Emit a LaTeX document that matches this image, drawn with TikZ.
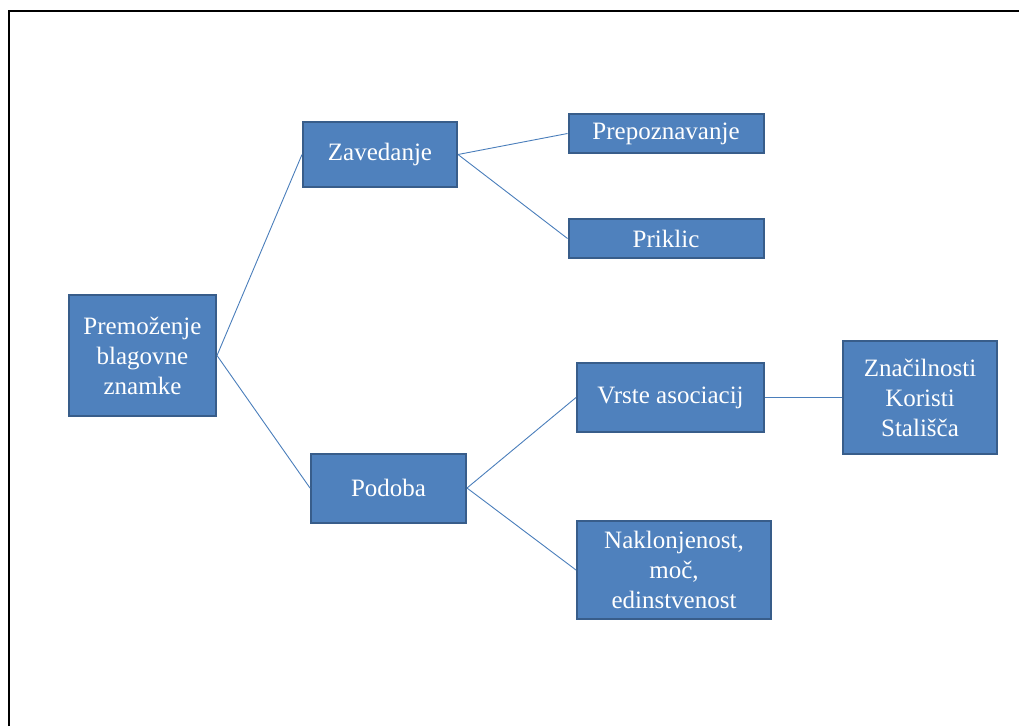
\documentclass[tikz,border=0pt]{standalone}
\usepackage{fontspec}
\setmainfont{Liberation Serif}
\definecolor{boxfill}{HTML}{4F81BD}
\definecolor{boxline}{HTML}{385D8A}
\definecolor{linkline}{HTML}{4A7EBB}
\begin{document}
\begin{tikzpicture}[x=1pt,y=-1pt,
  box/.style={draw=boxline, line width=2pt, fill=boxfill, text=white,
    inner sep=0pt, align=center,
    font=\fontsize{25}{30}\selectfont},
  link/.style={draw=linkline, line width=0.9pt}]
  \useasboundingbox (0,0) rectangle (1019,726);
  % page frame
  \draw[line width=2.2pt] (9,726) -- (9,11) -- (1019,11);

  % boxes
  \node[box, minimum width=147pt, minimum height=121pt] (root) at (142.5,355.5)
    {Premoženje\\blagovne\\znamke};
  \node[box, minimum width=154pt, minimum height=65pt] (zav) at (380,154.5) {Zavedanje};
  \node[box, minimum width=195pt, minimum height=39pt] (prep) at (666,133.5) {Prepoznavanje};
  \node[box, minimum width=195pt, minimum height=39pt] (prik) at (666,238.5) {Priklic};
  \node[box, minimum width=155pt, minimum height=69pt] (pod) at (388.5,488) {Podoba};
  \node[box, minimum width=187pt, minimum height=69pt] (vrs) at (670.5,397.5) {Vrste asociacij};
  \node[box, minimum width=154pt, minimum height=113pt] (zna) at (920,397.5)
    {Značilnosti\\Koristi\\Stališča};
  \node[box, minimum width=194pt, minimum height=98pt] (nak) at (674,570)
    {Naklonjenost,\\moč,\\edinstvenost};

  % connectors
  \draw[link] (root.east) -- (zav.west);
  \draw[link] (root.east) -- (pod.west);
  \draw[link] (zav.east) -- (prep.west);
  \draw[link] (zav.east) -- (prik.west);
  \draw[link] (pod.east) -- (vrs.west);
  \draw[link] (pod.east) -- (nak.west);
  \draw[link] (vrs.east) -- (zna.west);
\end{tikzpicture}
\end{document}
